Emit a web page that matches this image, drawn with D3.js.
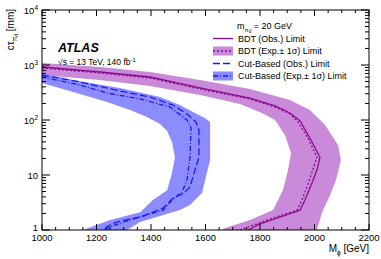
<!DOCTYPE html>
<html lang="en">
<head>
<meta charset="UTF-8">
<title>Limits</title>
<style>
  body { margin: 0; background: #fff; }
  svg { font-family: "Liberation Sans", Arial, sans-serif; }
</style>
<script src="https://d3js.org/d3.v7.min.js"></script>
</head>
<body>
<svg id="chart" width="381" height="259"></svg>
<script>
// BDT observed limit
var bdtObsM   = [1000,1213,1396,1580,1763,1855,1910,1947,1983,2020,2009,1991,1965,1947,1873,1800,1756];
var bdtObsCt  = [920,746,605,382,251,180,134,96,47,21,12.3,7.2,3.5,2.3,1.72,1.29,1];
// BDT expected limit
var bdtExpM   = [1000,1213,1396,1580,1763,1855,1910,1939,1976,2009,1991,1972,1954,1936,1826,1727];
var bdtExpCt  = [882,715,580,366,241,172,129,92,47,21,11.3,6.05,3.5,2.3,1.52,1];
// BDT +-1 sigma band (outer and inner edges)
var bdtHiM    = [1000,1213,1396,1580,1763,1910,1983,2039,2086,2097,2079,2057,2028,2009];
var bdtHiCt   = [1087,920,746,534,366,231,152,81,35,18.7,8.1,4.3,2.1,1];
var bdtLoM    = [1000,1213,1396,1580,1727,1807,1855,1892,1914,1903,1884,1848,1763,1672,1661];
var bdtLoCt   = [658,534,415,285,195,134,100,53,25,12.3,5.3,2.3,1.52,1.09,1];
// Cut-based observed limit
var cutObsM   = [1000,1139,1286,1396,1481,1532,1565,1576,1576,1561,1543,1521,1481,1444,1360,1275,1242,1224];
var cutObsCt  = [658,491,337,262,187,129,92,66,21,12.3,6.05,4.7,3.8,2.5,1.72,1.4,1.18,1];
// Cut-based expected limit
var cutExpM   = [1000,1139,1239,1360,1470,1532,1547,1543,1532,1514,1477,1444,1323,1257,1228];
var cutExpCt  = [605,433,310,241,172,100,72,21,8.1,4.9,3.5,2.3,1.52,1.18,1];
// Cut-based +-1 sigma band
var cutHiM    = [1000,1114,1286,1433,1506,1561,1598,1617,1617,1606,1587,1543,1506,1433,1360,1312];
var cutHiCt   = [715,534,382,262,187,134,109,92,18.7,11.3,4.7,2.85,2.3,1.8,1.4,1];
var cutLoM    = [1000,1139,1239,1323,1385,1433,1459,1477,1488,1477,1459,1407,1360,1250,1150];
var cutLoCt   = [471,297,212,152,113,85,63,40,21,10.9,5.3,3.5,2.1,1.52,1];

var xTicks = [1000,1200,1400,1600,1800,2000,2200];
var yTicks = [1,10,100,1000,10000];
var legendLabels = ["BDT (Obs.) Limit", "BDT (Exp.\u00B1 1\u03C3) Limit", "Cut-Based (Obs.) Limit", "Cut-Based (Exp.\u00B1 1\u03C3) Limit"];

var purple = "#8b0a8f", purpleBand = "#c98ad9", blue = "#1a1aff", blueBand = "#8c8cff";

var svg = d3.select("#chart");
var pL = 42, pR = 369, pT = 10, pB = 230;

var x = d3.scaleLinear().domain([1000, 2200]).range([pL, pR]);
var y = d3.scaleLog().domain([1, 10000]).range([pB, pT]);

function pts(ms, cs) { return ms.map(function (m, i) { return [m, cs[i]]; }); }

var line = d3.line().x(function (d) { return x(d[0]); }).y(function (d) { return y(d[1]); });

svg.append("clipPath").attr("id", "clip")
    .append("rect").attr("x", pL).attr("y", pT).attr("width", pR - pL).attr("height", pB - pT);

var g = svg.append("g").attr("clip-path", "url(#clip)");

function band(hiM, hiC, loM, loC, color) {
    var poly = pts(hiM, hiC).concat(pts(loM, loC).reverse());
    g.append("path").attr("d", line(poly) + "Z").attr("fill", color).attr("stroke", "none");
}
band(bdtHiM, bdtHiCt, bdtLoM, bdtLoCt, purpleBand);
band(cutHiM, cutHiCt, cutLoM, cutLoCt, blueBand);

function curve(ms, cs, color, dash, w) {
    g.append("path").attr("d", line(pts(ms, cs)))
        .attr("fill", "none").attr("stroke", color).attr("stroke-width", w)
        .attr("stroke-dasharray", dash);
}
curve(bdtExpM, bdtExpCt, purple, "2,2", 1.3);
curve(bdtObsM, bdtObsCt, purple, null, 1.3);
curve(cutExpM, cutExpCt, blue, "5,2,1,2", 1.3);
curve(cutObsM, cutObsCt, blue, "7,3", 1.3);

// frame and ticks
svg.append("rect").attr("x", pL).attr("y", pT).attr("width", pR - pL).attr("height", pB - pT)
    .attr("fill", "none").attr("stroke", "#000").attr("stroke-width", 1);

var tk = svg.append("g").attr("stroke", "#000").attr("stroke-width", 1);
for (var m = 1000; m <= 2200; m += 50) {
    var len = (m % 200 === 0) ? 6 : 3;
    tk.append("line").attr("x1", x(m)).attr("x2", x(m)).attr("y1", pB).attr("y2", pB - len);
    tk.append("line").attr("x1", x(m)).attr("x2", x(m)).attr("y1", pT).attr("y2", pT + len);
}
for (var e = 0; e < 4; e++) {
    for (var k = 1; k <= 9; k++) {
        var v = k * Math.pow(10, e);
        var l2 = (k === 1) ? 8 : 4;
        tk.append("line").attr("x1", pL).attr("x2", pL + l2).attr("y1", y(v)).attr("y2", y(v));
        tk.append("line").attr("x1", pR).attr("x2", pR - l2).attr("y1", y(v)).attr("y2", y(v));
    }
}
tk.append("line").attr("x1", pL).attr("x2", pL + 8).attr("y1", y(10000)).attr("y2", y(10000));
tk.append("line").attr("x1", pR).attr("x2", pR - 8).attr("y1", y(10000)).attr("y2", y(10000));

// tick labels
svg.selectAll(".xl").data(xTicks).enter().append("text")
    .attr("x", function (d) { return x(d); }).attr("y", 241)
    .attr("text-anchor", "middle").attr("font-size", 9.5).text(function (d) { return d; });

yTicks.forEach(function (d) {
    var t = svg.append("text").attr("x", 38).attr("y", d === 1 ? y(d) + 1 : y(d) + 3.5)
        .attr("text-anchor", "end").attr("font-size", 9.5);
    if (d === 1) t.text("1");
    else if (d === 10) t.text("10");
    else {
        t.append("tspan").text("10");
        t.append("tspan").attr("font-size", 6.5).attr("dy", -4).text(Math.round(Math.log10(d)));
    }
});

// axis titles
var yt = svg.append("text").attr("transform", "translate(14,9) rotate(-90)")
    .attr("text-anchor", "end").attr("font-size", 10);
yt.append("tspan").text("c\u03C4");
yt.append("tspan").attr("font-size", 6.5).attr("dy", 2.5).text("\u03C0");
yt.append("tspan").attr("font-size", 5).attr("dy", 1.5).text("d");
yt.append("tspan").attr("dy", -4).text(" [mm]");

var xt = svg.append("text").attr("x", pR).attr("y", 252).attr("text-anchor", "end").attr("font-size", 10);
xt.append("tspan").text("M");
xt.append("tspan").attr("font-size", 6.5).attr("dy", 2.5).text("\u03D5");
xt.append("tspan").attr("dy", -2.5).text(" [GeV]");

// ATLAS label
svg.append("text").attr("x", 58).attr("y", 52).attr("font-size", 12.5)
    .attr("font-weight", "bold").attr("font-style", "italic").text("ATLAS");
var en = svg.append("text").attr("x", 58).attr("y", 65).attr("font-size", 8.5);
en.append("tspan").text("\u221As = 13 TeV, 140 fb");
en.append("tspan").attr("font-size", 6).attr("dy", -3.5).text("-1");

// legend
var hd = svg.append("text").attr("x", 237).attr("y", 29).attr("font-size", 9);
hd.append("tspan").text("m");
hd.append("tspan").attr("font-size", 6).attr("dy", 2.5).text("\u03C0");
hd.append("tspan").attr("font-size", 4.5).attr("dy", 1.5).text("d");
hd.append("tspan").attr("dy", -4).text(" = 20 GeV");

var rows = [38.5, 51, 63.5, 76];
var lg = svg.append("g");
// BDT obs
lg.append("line").attr("x1", 213).attr("x2", 233).attr("y1", rows[0]).attr("y2", rows[0])
    .attr("stroke", purple).attr("stroke-width", 1.3);
// BDT exp
lg.append("rect").attr("x", 213).attr("y", rows[1] - 4.5).attr("width", 20).attr("height", 9).attr("fill", purpleBand);
lg.append("line").attr("x1", 213).attr("x2", 233).attr("y1", rows[1]).attr("y2", rows[1])
    .attr("stroke", purple).attr("stroke-width", 1.3).attr("stroke-dasharray", "2,2");
// Cut obs
lg.append("line").attr("x1", 213).attr("x2", 233).attr("y1", rows[2]).attr("y2", rows[2])
    .attr("stroke", blue).attr("stroke-width", 1.3).attr("stroke-dasharray", "7,3");
// Cut exp
lg.append("rect").attr("x", 213).attr("y", rows[3] - 4.5).attr("width", 20).attr("height", 9).attr("fill", blueBand);
lg.append("line").attr("x1", 213).attr("x2", 233).attr("y1", rows[3]).attr("y2", rows[3])
    .attr("stroke", blue).attr("stroke-width", 1.3).attr("stroke-dasharray", "5,2,1,2");

lg.selectAll("text").data(legendLabels).enter().append("text")
    .attr("x", 238).attr("y", function (d, i) { return rows[i] + 3.3; })
    .attr("font-size", 9).text(function (d) { return d; });
</script>
</body>
</html>
